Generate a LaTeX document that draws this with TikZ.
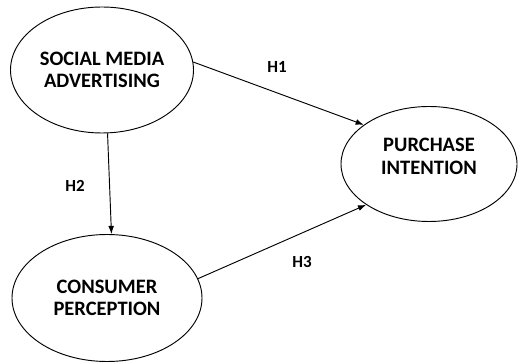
\documentclass[tikz,border=0pt]{standalone}
\usepackage{fontspec}
\setmainfont{Carlito}
\usetikzlibrary{shapes.geometric,arrows.meta}

\tikzset{
	construct/.style={draw,ellipse,line width=0.8pt,inner sep=0pt,align=center,
		font=\fontsize{17.5}{19}\selectfont\bfseries},
	path/.style={line width=0.8pt,-{Latex[length=7pt,width=5pt]}},
	hyp/.style={font=\fontsize{14.5}{16}\selectfont\bfseries}
}

\begin{document}
\begin{tikzpicture}
	\useasboundingbox (0,0) rectangle (15.57,10.89);
	% constructs
		\node[construct,minimum width=5.49cm,minimum height=3.78cm] (sma) at (3.06,8.79) {SOCIAL MEDIA\\ADVERTISING};
		\node[construct,minimum width=5.28cm,minimum height=3.45cm] (pi) at (12.87,5.97) {PURCHASE\\INTENTION\vphantom{g}\\[-6pt]};
		\node[construct,minimum width=5.70cm,minimum height=3.81cm] (cp) at (3.21,1.95) {CONSUMER\\PERCEPTION};
	% hypothesised paths
		\draw[path] (sma.5) -- (pi.149);
		\draw[path] (sma.-85) -- (cp.86);
		\draw[path] (cp.12) -- (pi.213);
	% path labels
		\node[hyp] (h1) at (8.31,8.88) {H1};
		\node[hyp] (h2) at (2.25,5.31) {H2};
		\node[hyp] (h3) at (9.06,3.03) {H3};
\end{tikzpicture}
\end{document}
